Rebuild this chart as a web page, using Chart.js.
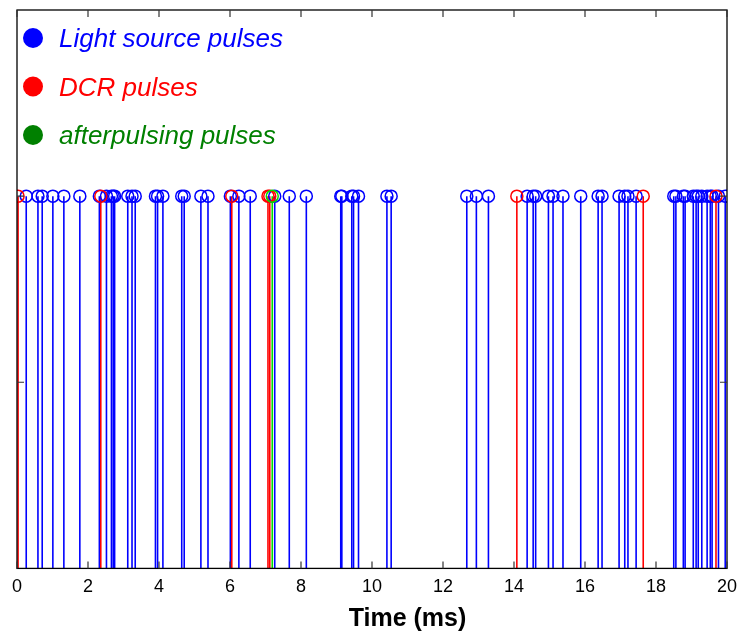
<!DOCTYPE html>
<html>
<head>
<meta charset="utf-8">
<script src="https://cdn.jsdelivr.net/npm/chart.js@4.4.0/dist/chart.umd.min.js"></script>
<style>
  html, body { margin: 0; padding: 0; background: #fff; }
  #wrap { width: 739px; height: 635px; }
</style>
</head>
<body>
<div id="wrap"><canvas id="chart"></canvas></div>
<script>
// pulse times in ms
const lightTimes = [0.26, 0.59, 0.71, 1.01, 1.32, 1.77, 2.32, 2.52, 2.66, 2.71, 2.75, 3.12, 3.24, 3.33,
  3.90, 3.96, 4.11, 4.64, 4.71, 5.18, 5.38, 6.01, 6.25, 6.57, 7.26, 7.67, 8.15, 9.12, 9.15, 9.43,
  9.48, 9.62, 10.42, 10.54, 12.67, 12.94, 13.28, 14.37, 14.54, 14.61, 14.97, 15.10, 15.38, 15.88,
  16.37, 16.48, 16.96, 17.12, 17.21, 17.44, 18.50, 18.56, 18.77, 18.82, 19.05, 19.13, 19.19, 19.29,
  19.44, 19.53, 19.58, 19.76, 19.95];
const dcrTimes = [0.03, 2.36, 6.05, 7.07, 7.12, 14.08, 17.64, 19.69];
const afterTimes = [7.19];
const pulseHeight = 1;

const xTicks = [0, 2, 4, 6, 8, 10, 12, 14, 16, 18, 20];
const yTicks = [0.5, 1];
const xTitle = "Time (ms)";

const legendItems = [
  { text: "Light source pulses", color: "#0000ff" },
  { text: "DCR pulses", color: "#ff0000" },
  { text: "afterpulsing pulses", color: "#008000" },
];

const FONT = "'Liberation Sans', Arial, Helvetica, sans-serif";

const toPoints = (arr) => arr.map((t) => ({ x: t, y: pulseHeight }));

// vertical stems from the baseline up to each marker
const stemPlugin = {
  id: "stems",
  beforeDatasetsDraw(chart) {
    const { ctx, scales } = chart;
    const y0 = scales.y.getPixelForValue(0);
    chart.data.datasets.forEach((ds, i) => {
      const meta = chart.getDatasetMeta(i);
      ctx.save();
      ctx.strokeStyle = ds.stemColor;
      ctx.lineWidth = 1.6;
      meta.data.forEach((el) => {
        ctx.beginPath();
        ctx.moveTo(el.x, y0);
        ctx.lineTo(el.x, el.y);
        ctx.stroke();
      });
      ctx.restore();
    });
  },
};

// box around the plot with inward tick marks, legend in the corner, axis title
const boxPlugin = {
  id: "box",
  afterDraw(chart) {
    const { ctx, chartArea: a, scales } = chart;
    ctx.save();
    ctx.strokeStyle = "#000";
    ctx.lineWidth = 1.3;
    ctx.strokeRect(a.left, a.top, a.right - a.left, a.bottom - a.top);
    ctx.lineWidth = 1.2;
    ctx.strokeStyle = "#333";
    const len = 7;
    xTicks.forEach((v) => {
      const px = scales.x.getPixelForValue(v);
      ctx.beginPath();
      ctx.moveTo(px, a.bottom); ctx.lineTo(px, a.bottom - len);
      ctx.moveTo(px, a.top); ctx.lineTo(px, a.top + len);
      ctx.stroke();
    });
    yTicks.forEach((v) => {
      const py = scales.y.getPixelForValue(v);
      ctx.beginPath();
      ctx.moveTo(a.left, py); ctx.lineTo(a.left + len, py);
      ctx.moveTo(a.right, py); ctx.lineTo(a.right - len, py);
      ctx.stroke();
    });

    // legend
    ctx.font = "italic 26px " + FONT;
    ctx.textBaseline = "alphabetic";
    ctx.textAlign = "left";
    legendItems.forEach((it, i) => {
      const cy = 38 + i * 48.5;
      ctx.fillStyle = it.color;
      ctx.beginPath();
      ctx.arc(a.left + 16, cy, 10, 0, Math.PI * 2);
      ctx.fill();
      ctx.fillText(it.text, a.left + 42, cy + 9);
    });

    // x title sits a bit right of the plot centre in the original
    ctx.font = "bold 25px " + FONT;
    ctx.fillStyle = "#000";
    ctx.textAlign = "center";
    ctx.textBaseline = "middle";
    ctx.fillText(xTitle, scales.x.getPixelForValue(11), 619);
    ctx.restore();
  },
};

const ctx = document.getElementById("chart").getContext("2d");
new Chart(ctx, {
  type: "scatter",
  data: {
    datasets: [
      {
        label: "Light source pulses",
        data: toPoints(lightTimes),
        borderColor: "#0000ff",
        stemColor: "#0000ff",
        order: 3,
      },
      {
        label: "DCR pulses",
        data: toPoints(dcrTimes),
        borderColor: "#ff0000",
        stemColor: "#ff0000",
        order: 2,
      },
      {
        label: "afterpulsing pulses",
        data: toPoints(afterTimes),
        borderColor: "#00dd00",
        stemColor: "#00dd00",
        order: 1,
      },
    ],
  },
  options: {
    responsive: true,
    maintainAspectRatio: false,
    animation: false,
    events: [],
    layout: { padding: { left: 17, right: 12, top: 10, bottom: 1 } },
    elements: {
      point: {
        radius: 6,
        borderWidth: 1.5,
        backgroundColor: "rgba(0,0,0,0)",
        pointStyle: "circle",
      },
    },
    plugins: {
      legend: { display: false },
      tooltip: { enabled: false },
    },
    scales: {
      x: {
        type: "linear",
        min: 0,
        max: 20,
        grid: { display: false, drawTicks: false },
        border: { display: false },
        afterBuildTicks: (scale) => {
          scale.ticks = xTicks.map((v) => ({ value: v }));
        },
        afterFit: (scale) => {
          scale.paddingLeft = 0;
          scale.paddingRight = 0;
        },
        ticks: {
          color: "#000",
          padding: 8,
          maxRotation: 0,
          font: { family: FONT, size: 18 },
        },
        // reserves the space; the visible title is drawn by the box plugin
        title: {
          display: true,
          text: xTitle,
          color: "rgba(0,0,0,0)",
          font: { family: FONT, size: 25, weight: "bold", lineHeight: 1 },
          padding: { top: 2, bottom: 1 },
        },
      },
      y: {
        type: "linear",
        display: false,
        min: 0,
        max: 1.5,
      },
    },
  },
  plugins: [stemPlugin, boxPlugin],
});
</script>
</body>
</html>
